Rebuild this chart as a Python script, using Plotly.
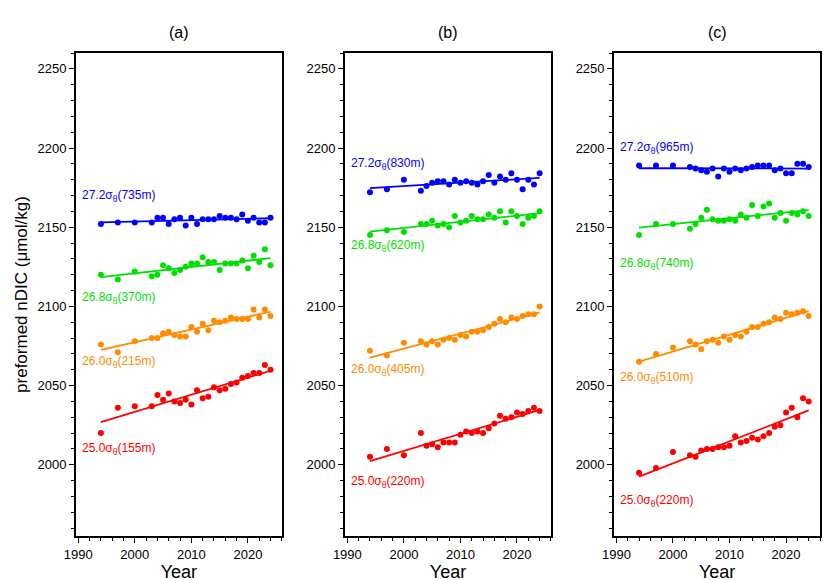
import numpy as np
import plotly.graph_objects as go
from plotly.subplots import make_subplots

years = [1994, 1997, 2000] + list(range(2003, 2025))

# panel (a)
a_red = [2020, 2036, 2037, 2037, 2044, 2041, 2045, 2040, 2039, 2041, 2038, 2047, 2042, 2043, 2049,
         2047, 2048, 2051, 2052, 2055, 2056, 2058, 2058, 2063, 2060]
a_orange = [2076, 2071, 2078, 2080, 2080, 2083, 2084, 2082, 2081, 2081, 2087, 2084, 2089, 2085, 2091,
            2090, 2091, 2093, 2092, 2092, 2092, 2098, 2093, 2098, 2094]
a_green = [2120, 2117, 2122, 2119, 2120, 2126, 2124, 2121, 2123, 2125, 2127, 2127, 2131, 2128, 2128,
           2123, 2127, 2127, 2127, 2129, 2124, 2132, 2128, 2136, 2126]
a_blue = [2152, 2153, 2153, 2153, 2156, 2156, 2152, 2155, 2156, 2151, 2156, 2152, 2155, 2155, 2155,
          2157, 2156, 2156, 2155, 2158, 2154, 2156, 2153, 2153, 2156]
# panel (b)
b_red = [2005, 2010, 2006, 2020, 2012, 2013, 2011, 2014, 2014, 2014, 2019, 2021, 2020, 2021, 2020,
         2023, 2026, 2031, 2029, 2030, 2033, 2032, 2034, 2036, 2034]
b_orange = [2072, 2069, 2077, 2078, 2076, 2078, 2076, 2079, 2080, 2079, 2082, 2081, 2084, 2084, 2085,
            2087, 2089, 2092, 2090, 2093, 2092, 2094, 2095, 2095, 2100]
b_green = [2145, 2148, 2147, 2152, 2152, 2154, 2151, 2152, 2150, 2157, 2153, 2154, 2157, 2155, 2155,
           2158, 2156, 2160, 2153, 2160, 2157, 2152, 2156, 2157, 2160]
b_blue = [2172, 2174, 2180, 2173, 2176, 2178, 2179, 2179, 2177, 2180, 2178, 2179, 2178, 2177, 2179,
          2183, 2178, 2182, 2180, 2184, 2180, 2174, 2180, 2177, 2184]
# panel (c)
c_red = [1995, 1998, 2008, 2006, 2005, 2009, 2010, 2010, 2011, 2011, 2012, 2018, 2014, 2015, 2017,
         2016, 2018, 2020, 2024, 2025, 2033, 2036, 2030, 2042, 2040]
c_orange = [2065, 2070, 2074, 2078, 2076, 2073, 2078, 2079, 2077, 2081, 2079, 2082, 2081, 2084, 2087,
            2087, 2089, 2090, 2093, 2092, 2096, 2095, 2096, 2097, 2094]
c_green = [2145, 2152, 2152, 2149, 2152, 2156, 2161, 2155, 2154, 2154, 2155, 2154, 2158, 2156, 2164,
           2157, 2163, 2165, 2156, 2159, 2154, 2159, 2158, 2160, 2157]
c_blue = [2189, 2189, 2189, 2188, 2187, 2186, 2185, 2187, 2182, 2187, 2185, 2187, 2186, 2187, 2188,
          2189, 2189, 2189, 2186, 2187, 2184, 2184, 2190, 2190, 2188]

colors = ["red", "#ff8c00", "#00e000", "blue"]
sig = "σ<sub>θ</sub>"
panels = [
    ([a_red, a_orange, a_green, a_blue],
     ["25.0" + sig + "(155m)", "26.0" + sig + "(215m)", "26.8" + sig + "(370m)", "27.2" + sig + "(735m)"],
     [2010, 2065, 2105, 2170]),
    ([b_red, b_orange, b_green, b_blue],
     ["25.0" + sig + "(220m)", "26.0" + sig + "(405m)", "26.8" + sig + "(620m)", "27.2" + sig + "(830m)"],
     [1989, 2060, 2138, 2190]),
    ([c_red, c_orange, c_green, c_blue],
     ["25.0" + sig + "(220m)", "26.0" + sig + "(510m)", "26.8" + sig + "(740m)", "27.2" + sig + "(965m)"],
     [1977, 2055, 2127, 2200]),
]

fig = make_subplots(rows=1, cols=3, horizontal_spacing=0.085,
                    subplot_titles=["(a)", "(b)", "(c)"])
yr = np.array(years)
for i, (series, labels, ly) in enumerate(panels, start=1):
    for vals, col, lab, y0 in zip(series, colors, labels, ly):
        fig.add_trace(go.Scatter(x=years, y=vals, mode="markers",
                                 marker=dict(color=col, size=6), showlegend=False), row=1, col=i)
        k, b = np.polyfit(yr, vals, 1)
        fig.add_trace(go.Scatter(x=[yr[0], yr[-1]], y=[k * yr[0] + b, k * yr[-1] + b], mode="lines",
                                 line=dict(color=col, width=1.8), showlegend=False), row=1, col=i)
        fig.add_annotation(x=1990.3, y=y0, text=lab, showarrow=False, xanchor="left",
                           font=dict(color=col, size=12), row=1, col=i)

axis = dict(showline=True, linecolor="black", linewidth=2, mirror=True, ticks="outside",
            ticklen=5, tickcolor="black", showgrid=False, zeroline=False,
            tickfont=dict(size=13, color="black"),
            minor=dict(ticks="outside", ticklen=3, tickcolor="black"))
fig.update_xaxes(range=[1989.6, 2026], dtick=10, tick0=1990, minor_dtick=2,
                 title=dict(text="Year", font=dict(size=18, color="black"), standoff=2), **axis)
fig.update_yaxes(range=[1955, 2260], dtick=50, minor_dtick=10, **axis)
fig.update_yaxes(title=dict(text="preformed nDIC (μmol/kg)", font=dict(size=17, color="black"), standoff=6),
                 row=1, col=1)
for ann in fig.layout.annotations[:3]:
    ann.font = dict(size=16, color="black")
    ann.y = 1.02
fig.update_layout(width=832, height=580, plot_bgcolor="white", paper_bgcolor="white",
                  font=dict(family="Liberation Sans, Arial, sans-serif"),
                  margin=dict(l=68, r=20, t=45, b=35))
fig.write_html("out.html")
